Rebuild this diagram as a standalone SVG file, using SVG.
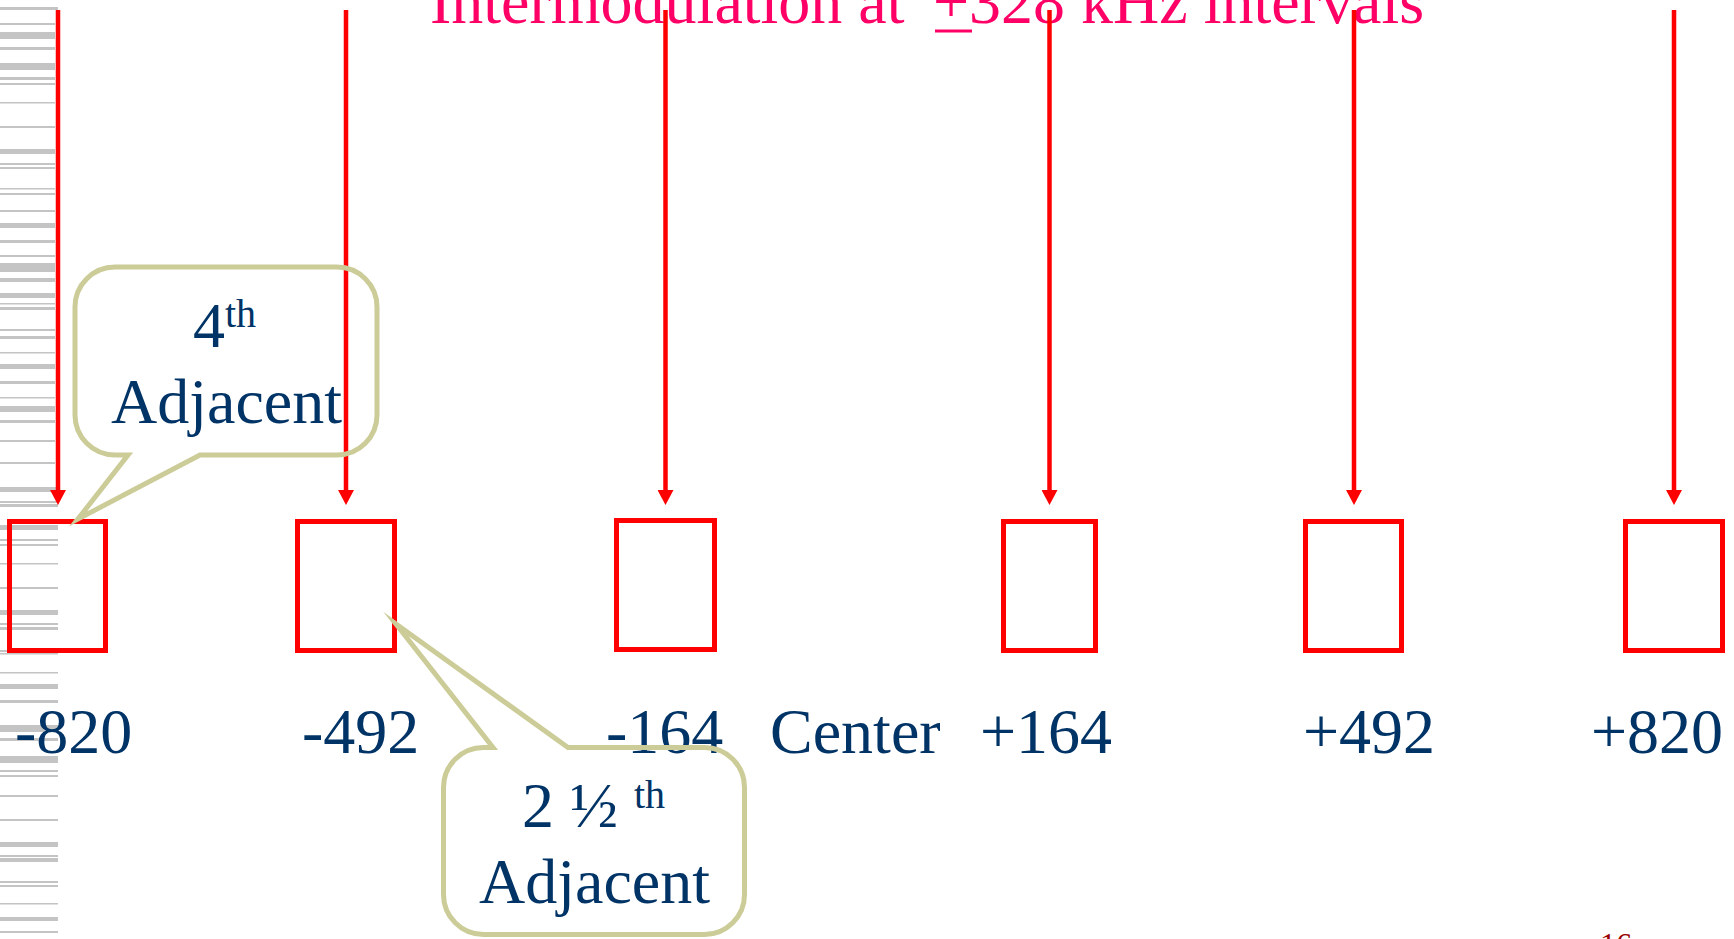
<svg xmlns="http://www.w3.org/2000/svg" width="1734" height="939" viewBox="0 0 1734 939">
  <style>
    .stripe { fill: #c4c4c4; }
    .title { font-family: "Liberation Serif", "Times New Roman", serif; font-size: 64px; fill: #ff0066; }
    .label { font-family: "Liberation Serif", "Times New Roman", serif; font-size: 64px; fill: #003366; }
    .sup { font-size: 40px; }
    .channel { fill: none; stroke: #ff0000; stroke-width: 5; }
    .callout { fill: none; stroke: #cccc99; stroke-width: 5; stroke-linejoin: miter; stroke-miterlimit: 20; }
    .imd { stroke: #ff0000; stroke-width: 4.5; fill: none; }
    .page { font-family: "Liberation Serif", "Times New Roman", serif; font-size: 32px; fill: #990000; }
  </style>
  <defs>
    <marker id="head" viewBox="0 -8 15 16" markerWidth="15" markerHeight="16" refX="0" refY="0" orient="auto" markerUnits="userSpaceOnUse">
      <path d="M0,-8 L15,0 L0,8 Z" fill="#ff0000"/>
    </marker>
  </defs>

  <rect width="1734" height="939" fill="#ffffff"/>

  <!-- slide-edge barcode strip -->
  <g id="edge-strip">
    <rect class="stripe" x="0" y="7" width="58" height="3"/>
    <rect class="stripe" x="0" y="23" width="55" height="2"/>
    <rect class="stripe" x="0" y="32" width="55" height="7"/>
    <rect class="stripe" x="0" y="47" width="55" height="3"/>
    <rect class="stripe" x="0" y="63" width="55" height="7"/>
    <rect class="stripe" x="0" y="77" width="55" height="3"/>
    <rect class="stripe" x="0" y="83" width="55" height="2"/>
    <rect class="stripe" x="0" y="102" width="55" height="1.5"/>
    <rect class="stripe" x="0" y="126" width="55" height="2"/>
    <rect class="stripe" x="0" y="149" width="55" height="5"/>
    <rect class="stripe" x="0" y="163" width="55" height="2"/>
    <rect class="stripe" x="0" y="167" width="55" height="2"/>
    <rect class="stripe" x="0" y="188" width="55" height="1.5"/>
    <rect class="stripe" x="0" y="193" width="55" height="2"/>
    <rect class="stripe" x="0" y="210" width="55" height="2"/>
    <rect class="stripe" x="0" y="223" width="55" height="5"/>
    <rect class="stripe" x="0" y="240" width="55" height="3"/>
    <rect class="stripe" x="0" y="255" width="55" height="2"/>
    <rect class="stripe" x="0" y="263" width="55" height="9"/>
    <rect class="stripe" x="0" y="278" width="55" height="4"/>
    <rect class="stripe" x="0" y="293" width="55" height="5"/>
    <rect class="stripe" x="0" y="303" width="55" height="1.5"/>
    <rect class="stripe" x="0" y="307" width="55" height="3"/>
    <rect class="stripe" x="0" y="329" width="55" height="2"/>
    <rect class="stripe" x="0" y="336" width="55" height="3"/>
    <rect class="stripe" x="0" y="352" width="55" height="1.5"/>
    <rect class="stripe" x="0" y="364" width="55" height="5"/>
    <rect class="stripe" x="0" y="381" width="55" height="3"/>
    <rect class="stripe" x="0" y="397" width="55" height="1.5"/>
    <rect class="stripe" x="0" y="406" width="55" height="6"/>
    <rect class="stripe" x="0" y="420" width="55" height="3"/>
    <rect class="stripe" x="0" y="440" width="55" height="2"/>
    <rect class="stripe" x="0" y="462" width="55" height="2"/>
    <rect class="stripe" x="0" y="487" width="58" height="5"/>
    <rect class="stripe" x="0" y="501" width="58" height="2"/>
    <rect class="stripe" x="0" y="504" width="58" height="3"/>
    <rect class="stripe" x="0" y="525" width="58" height="5"/>
    <rect class="stripe" x="0" y="539" width="58" height="2"/>
    <rect class="stripe" x="0" y="544" width="58" height="2"/>
    <rect class="stripe" x="0" y="563" width="58" height="1.5"/>
    <rect class="stripe" x="0" y="587" width="58" height="2"/>
    <rect class="stripe" x="0" y="610" width="58" height="5"/>
    <rect class="stripe" x="0" y="623" width="58" height="2"/>
    <rect class="stripe" x="0" y="627" width="58" height="3"/>
    <rect class="stripe" x="0" y="650" width="58" height="2"/>
    <rect class="stripe" x="0" y="653" width="58" height="1.5"/>
    <rect class="stripe" x="0" y="672" width="58" height="1.5"/>
    <rect class="stripe" x="0" y="684" width="58" height="5"/>
    <rect class="stripe" x="0" y="700" width="58" height="3"/>
    <rect class="stripe" x="0" y="725" width="58" height="7"/>
    <rect class="stripe" x="0" y="738" width="58" height="3"/>
    <rect class="stripe" x="0" y="756" width="58" height="7"/>
    <rect class="stripe" x="0" y="770" width="58" height="2"/>
    <rect class="stripe" x="0" y="775" width="58" height="2"/>
    <rect class="stripe" x="0" y="795" width="58" height="2"/>
    <rect class="stripe" x="0" y="819" width="58" height="2"/>
    <rect class="stripe" x="0" y="842" width="58" height="5"/>
    <rect class="stripe" x="0" y="855" width="58" height="2"/>
    <rect class="stripe" x="0" y="858" width="58" height="4"/>
    <rect class="stripe" x="0" y="881" width="58" height="2"/>
    <rect class="stripe" x="0" y="885" width="58" height="2"/>
    <rect class="stripe" x="0" y="903" width="58" height="1.5"/>
    <rect class="stripe" x="0" y="917" width="58" height="4"/>
    <rect class="stripe" x="0" y="931" width="58" height="2"/>
  </g>

  <!-- heading -->
  <g id="title">
    <text class="title" x="430" y="23">Intermodulation at</text>
    <text class="title" x="933" y="23">+328 kHz intervals</text>
    <rect x="935" y="29.5" width="37" height="3" fill="#ff0066"/>
  </g>

  <!-- intermodulation arrows -->
  <g id="connectors">
    <line class="imd" x1="58" y1="10" x2="58" y2="490" marker-end="url(#head)"/>
    <line class="imd" x1="346" y1="10" x2="346" y2="490" marker-end="url(#head)"/>
    <line class="imd" x1="665.5" y1="10" x2="665.5" y2="490" marker-end="url(#head)"/>
    <line class="imd" x1="1049.5" y1="10" x2="1049.5" y2="490" marker-end="url(#head)"/>
    <line class="imd" x1="1354" y1="10" x2="1354" y2="490" marker-end="url(#head)"/>
    <line class="imd" x1="1674" y1="10" x2="1674" y2="490" marker-end="url(#head)"/>
  </g>

  <!-- channel slots -->
  <g id="ch-minus-820"><rect class="channel" x="9.5" y="521.5" width="96" height="129"/></g>
  <g id="ch-minus-492"><rect class="channel" x="297.5" y="521.5" width="97" height="129"/></g>
  <g id="ch-minus-164"><rect class="channel" x="616.5" y="520.5" width="98" height="129"/></g>
  <g id="ch-plus-164"><rect class="channel" x="1003.5" y="521.5" width="92" height="129"/></g>
  <g id="ch-plus-492"><rect class="channel" x="1305.5" y="521.5" width="96" height="129"/></g>
  <g id="ch-plus-820"><rect class="channel" x="1625.5" y="521.5" width="97" height="129"/></g>

  <!-- frequency offsets (kHz) -->
  <g id="offset-labels">
    <text class="label" x="15" y="753">-820</text>
    <text class="label" x="302" y="753">-492</text>
    <text class="label" x="606" y="753">-164</text>
    <text class="label" x="770" y="753">Center</text>
    <text class="label" x="980" y="753">+164</text>
    <text class="label" x="1303" y="753">+492</text>
    <text class="label" x="1591" y="753">+820</text>
  </g>

  <!-- callout: 4th adjacent -->
  <g id="callout-4th">
    <path class="callout" d="M115,267 H337 A40,40 0 0 1 377,307 V415 A40,40 0 0 1 337,455 H200 L78,519 L128,455 H115 A40,40 0 0 1 75,415 V307 A40,40 0 0 1 115,267 Z"/>
    <text class="label" x="193" y="347">4<tspan class="sup" dy="-20">th</tspan></text>
    <text class="label" x="111" y="423">Adjacent</text>
  </g>

  <!-- callout: 2 1/2 th adjacent -->
  <g id="callout-2half">
    <path class="callout" d="M484,747.5 H493 L396,624 L568,747.5 H704 A40,40 0 0 1 744.5,787.5 V894.5 A40,40 0 0 1 704.5,934.5 H483.5 A40,40 0 0 1 443.5,894.5 V787.5 A40,40 0 0 1 484,747.5 Z"/>
    <text class="label" x="522" y="827">2 ½ <tspan class="sup" x="634" dy="-19">th</tspan></text>
    <text class="label" x="479" y="903">Adjacent</text>
  </g>

  <!-- slide number -->
  <text class="page" x="1600" y="955">16</text>
</svg>
